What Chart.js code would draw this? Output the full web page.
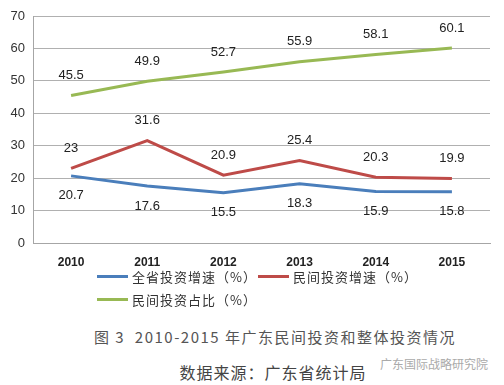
<!DOCTYPE html>
<html>
<head>
<meta charset="utf-8">
<script src="https://cdn.jsdelivr.net/npm/chart.js@4"></script>
<style>
  html, body { margin: 0; padding: 0; background: #fff; }
  body { width: 504px; height: 385px; position: relative; overflow: hidden; font-family: "Noto Sans CJK SC", sans-serif; }
  #wrap { position: absolute; left: 0; top: 0; width: 504px; height: 268px; }
  .leg { position: absolute; display: flex; align-items: center; font-size: 13px; color: #333; white-space: nowrap; letter-spacing: 1px; }
  .leg span.ln { display: inline-block; width: 31px; height: 3px; margin-right: 4px; }
  #title { position: absolute; left: 0; width: 550px; top: 326px; text-align: center; font-size: 15px; color: #555; letter-spacing: 1.5px; }
  #source { position: absolute; left: 0; width: 546px; top: 360px; text-align: center; font-size: 16px; color: #444; letter-spacing: 1px; }
  #mark { position: absolute; left: 380px; top: 355px; font-size: 12px; color: #aaa; }
</style>
</head>
<body>
<div id="wrap"><canvas id="myChart"></canvas></div>
<div id="legend"></div>
<div id="title">图 3&nbsp;&nbsp;2010-2015 年广东民间投资和整体投资情况</div>
<div id="source">数据来源：广东省统计局</div>
<div id="mark">广东国际战略研究院</div>
<script>
const years = ['2010', '2011', '2012', '2013', '2014', '2015'];
const totalGrowth = [20.7, 17.6, 15.5, 18.3, 15.9, 15.8];
const privateGrowth = [23, 31.6, 20.9, 25.4, 20.3, 19.9];
const privateShare = [45.5, 49.9, 52.7, 55.9, 58.1, 60.1];
const seriesNames = ['全省投资增速（%）', '民间投资增速（%）', '民间投资占比（%）'];
const yTicks = [0, 10, 20, 30, 40, 50, 60, 70];

// labels drawn above / below each point
const pointLabels = {
    id: 'pointLabels',
    afterDatasetsDraw(chart) {
        const c = chart.ctx;
        c.save();
        c.font = '13px "Liberation Sans", Arial, sans-serif';
        c.fillStyle = '#222';
        c.textAlign = 'center';
        c.textBaseline = 'middle';
        chart.data.datasets.forEach((ds, i) => {
            chart.getDatasetMeta(i).data.forEach((pt, j) => {
                c.fillText(String(ds.data[j]), pt.x, pt.y + ds.labelOffset);
            });
        });
        c.restore();
    }
};

const ctx = document.getElementById('myChart').getContext('2d');
const chart = new Chart(ctx, {
    type: 'line',
    data: {
        labels: years,
        datasets: [
            { label: seriesNames[0], data: totalGrowth, borderColor: '#4a7ebb', labelOffset: 20 },
            { label: seriesNames[1], data: privateGrowth, borderColor: '#be4b48', labelOffset: -20 },
            { label: seriesNames[2], data: privateShare, borderColor: '#98b954', labelOffset: -20 }
        ]
    },
    options: {
        responsive: true,
        maintainAspectRatio: false,
        animation: false,
        layout: { padding: { top: 16, right: 14, left: 0, bottom: 0 } },
        elements: {
            line: { borderWidth: 3, tension: 0 },
            point: { radius: 0, hoverRadius: 0 }
        },
        plugins: { legend: { display: false }, tooltip: { enabled: false } },
        scales: {
            x: {
                offset: true,
                grid: { display: false, drawTicks: false },
                border: { color: '#a6a6a6', width: 1 },
                ticks: { padding: 12, color: '#222', font: { size: 12, weight: 'bold', family: '"Liberation Sans", Arial' } },
                afterFit(s) { s.height = 25; }
            },
            y: {
                min: 0,
                max: 70,
                afterBuildTicks(s) { s.ticks = yTicks.map(v => ({ value: v })); },
                grid: { color: '#b0b0b0', lineWidth: 1, drawTicks: false },
                border: { color: '#a6a6a6', width: 1 },
                ticks: { padding: 8, color: '#333', font: { size: 13, family: '"Liberation Sans", Arial' } },
                afterFit(s) { s.width = 33; }
            }
        }
    },
    plugins: [pointLabels]
});

// legend built from the chart datasets
const legendPos = [[97, 267], [258, 267], [97, 290]];
const legendBox = document.getElementById('legend');
chart.data.datasets.forEach((ds, i) => {
    const el = document.createElement('div');
    el.className = 'leg';
    el.style.left = legendPos[i][0] + 'px';
    el.style.top = legendPos[i][1] + 'px';
    el.innerHTML = '<span class="ln" style="background:' + ds.borderColor + '"></span>' + ds.label;
    legendBox.appendChild(el);
});
</script>
</body>
</html>
